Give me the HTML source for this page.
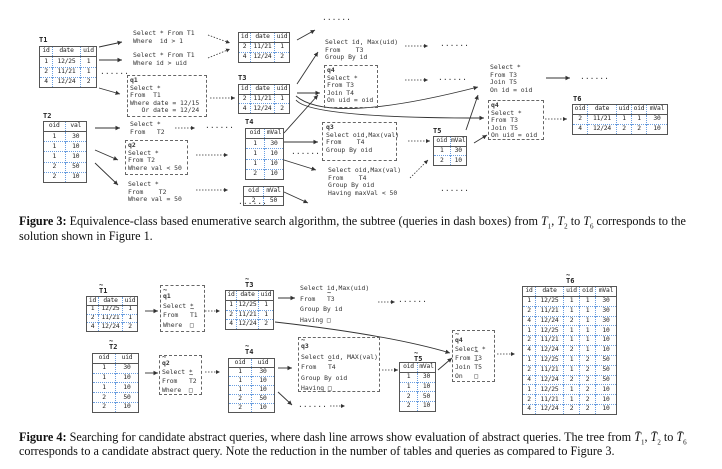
<!DOCTYPE html>
<html><head><meta charset="utf-8"><style>
body{margin:0;width:722px;height:469px;background:#fff;position:relative;overflow:hidden;font-family:"DejaVu Sans Mono","Liberation Mono",monospace;color:#222}
table.t{position:absolute;border-collapse:collapse;border:1px solid #555;font-size:6.3px;letter-spacing:-0.2px;table-layout:fixed}
table.t td{border-left:1px dotted #6a9ee0;border-top:1px dotted #6a9ee0;text-align:center;padding:0;line-height:1;white-space:nowrap;overflow:hidden}
table.t td:first-child{border-left:none}
table.t tr:first-child td{border-top:none;border-bottom:1px solid #555}
.q{position:absolute;font-size:6.4px;line-height:7.6px;white-space:pre;color:#333}
.box{position:absolute;border:1px dashed #666}
.lb{position:absolute;font:bold 7px "DejaVu Sans Mono",monospace}
.d{position:absolute;font-size:8px;color:#333}
.cap{position:absolute;left:19px;font:12.2px "Liberation Serif",serif;color:#111;white-space:nowrap;line-height:14px}
svg{position:absolute;left:0;top:0}
.tl{display:inline-block;position:relative}
.tl:before{content:"~";position:absolute;top:-6px;left:0;font-size:7px}
</style></head><body>
<svg width="722" height="469">
<defs>
<marker id="m" markerWidth="6" markerHeight="6" refX="5" refY="3" orient="auto"><path d="M0,0.5 L5,3 L0,5.5z" fill="#333"/></marker>
</defs>
<g stroke="#333" stroke-width="0.9" fill="none" marker-end="url(#m)">
<line x1="99" y1="47" x2="122" y2="42"/>
<line x1="99" y1="60" x2="122" y2="60"/>
<line x1="99" y1="88" x2="120" y2="94"/>
<line x1="95" y1="128" x2="120" y2="128"/>
<line x1="95" y1="150" x2="118" y2="160"/>
<line x1="95" y1="163" x2="118" y2="185"/>
<line x1="297" y1="40" x2="315" y2="30"/>
<line x1="297" y1="84" x2="318" y2="52"/>
<line x1="297" y1="93" x2="320" y2="93"/>
<line x1="284" y1="133" x2="318" y2="95"/>
<line x1="284" y1="142" x2="318" y2="142"/>
<line x1="284" y1="160" x2="316" y2="170"/>
<line x1="284" y1="192" x2="308" y2="203"/>
<line x1="466" y1="130" x2="478" y2="95"/>
<line x1="474" y1="143" x2="487" y2="135"/>
<line x1="546" y1="78" x2="570" y2="78"/>
<path d="M296,96 Q330,125 478,87"/>
<path d="M296,100 Q310,118 484,118"/>
<line x1="145" y1="311" x2="158" y2="311"/>
<line x1="145" y1="373" x2="158" y2="373"/>
<line x1="278" y1="298" x2="295" y2="298"/>
<line x1="278" y1="368" x2="292" y2="368"/>
<line x1="278" y1="392" x2="292" y2="405"/>
<path d="M275,322 Q390,335 450,353"/>
<line x1="438" y1="370" x2="452" y2="358"/>
</g>
<g stroke="#333" stroke-width="0.8" fill="none" stroke-dasharray="1.5,1.5" marker-end="url(#m)">
<line x1="208" y1="35" x2="230" y2="43"/>
<line x1="208" y1="58" x2="230" y2="49"/>
<line x1="210" y1="98" x2="235" y2="98"/>
<line x1="175" y1="128" x2="195" y2="128"/>
<line x1="196" y1="155" x2="228" y2="155"/>
<line x1="196" y1="190" x2="228" y2="190"/>
<line x1="405" y1="46" x2="428" y2="46"/>
<line x1="405" y1="80" x2="428" y2="80"/>
<line x1="408" y1="141" x2="430" y2="141"/>
<line x1="410" y1="178" x2="428" y2="160"/>
<line x1="545" y1="119" x2="567" y2="119"/>
<line x1="205" y1="311" x2="220" y2="311"/>
<line x1="205" y1="372" x2="220" y2="372"/>
<line x1="378" y1="302" x2="395" y2="302"/>
<line x1="382" y1="370" x2="398" y2="370"/>
<line x1="497" y1="354" x2="515" y2="354"/>
<line x1="330" y1="406" x2="345" y2="406"/>
</g>
</svg>

<!-- Figure 3 -->
<div class="lb" style="left:39px;top:36px">T1</div>
<table class="t" style="left:39px;top:46px;width:58px;height:42px"><tr><td style="width:12px">id</td><td>date</td><td style="width:15px">uid</td></tr><tr><td>1</td><td>12/25</td><td>1</td></tr><tr><td>2</td><td>11/21</td><td>1</td></tr><tr><td>4</td><td>12/24</td><td>2</td></tr></table>
<div class="q" style="left:133px;top:30px">Select * From T1
Where  id &gt; 1</div>
<div class="q" style="left:133px;top:52px">Select * From T1
Where id &gt; uid</div>
<div class="d" style="left:100px;top:67px">......</div>
<div class="box" style="left:127px;top:75px;width:78px;height:40px"></div>
<div class="q" style="left:130px;top:77px"><b>q1</b>
Select *
From  T1
Where date = 12/15
   Or date = 12/24</div>
<table class="t" style="left:238px;top:32px;width:52px;height:31px"><tr><td style="width:11px">id</td><td>date</td><td style="width:14px">uid</td></tr><tr><td>2</td><td>11/21</td><td>1</td></tr><tr><td>4</td><td>12/24</td><td>2</td></tr></table>
<div class="lb" style="left:238px;top:74px">T3</div>
<table class="t" style="left:238px;top:84px;width:52px;height:30px"><tr><td style="width:11px">id</td><td>date</td><td style="width:14px">uid</td></tr><tr><td>2</td><td>11/21</td><td>1</td></tr><tr><td>4</td><td>12/24</td><td>2</td></tr></table>
<div class="lb" style="left:43px;top:112px">T2</div>
<table class="t" style="left:43px;top:121px;width:44px;height:62px"><tr><td>oid</td><td>val</td></tr><tr><td>1</td><td>30</td></tr><tr><td>1</td><td>10</td></tr><tr><td>1</td><td>10</td></tr><tr><td>2</td><td>50</td></tr><tr><td>2</td><td>10</td></tr></table>
<div class="q" style="left:130px;top:121px">Select *
From   T2</div>
<div class="d" style="left:205px;top:121px">......</div>
<div class="box" style="left:125px;top:140px;width:61px;height:33px"></div>
<div class="q" style="left:128px;top:142px"><b>q2</b>
Select *
From T2
Where val &lt; 50</div>
<div class="q" style="left:128px;top:181px">Select *
From    T2
Where val = 50</div>
<div class="lb" style="left:245px;top:118px">T4</div>
<table class="t" style="left:245px;top:128px;width:39px;height:52px"><tr><td>oid</td><td>mVal</td></tr><tr><td>1</td><td>30</td></tr><tr><td>1</td><td>10</td></tr><tr><td>1</td><td>10</td></tr><tr><td>2</td><td>10</td></tr></table>
<table class="t" style="left:243px;top:186px;width:41px;height:20px"><tr><td>oid</td><td>mVal</td></tr><tr><td>2</td><td>50</td></tr></table>
<div class="d" style="left:322px;top:13px">......</div>
<div class="q" style="left:325px;top:39px">Select id, Max(uid)
From    T3
Group By id</div>
<div class="d" style="left:440px;top:39px">......</div>
<div class="box" style="left:324px;top:65px;width:52px;height:41px"></div>
<div class="q" style="left:327px;top:67px"><b>q4</b>
Select *
From T3
Join T4
On uid = oid</div>
<div class="d" style="left:438px;top:73px">......</div>
<div class="d" style="left:291px;top:147px">......</div>
<div class="box" style="left:322px;top:122px;width:73px;height:37px"></div>
<div class="q" style="left:326px;top:124px"><b>q3</b>
Select oid,Max(val)
From    T4
Group By oid</div>
<div class="lb" style="left:433px;top:127px">T5</div>
<table class="t" style="left:433px;top:136px;width:34px;height:30px"><tr><td>oid</td><td>mVal</td></tr><tr><td>1</td><td>30</td></tr><tr><td>2</td><td>10</td></tr></table>
<div class="q" style="left:328px;top:167px">Select oid,Max(val)
From    T4
Group By oid
Having maxVal &lt; 50</div>
<div class="d" style="left:440px;top:184px">......</div>
<div class="d" style="left:238px;top:197px">......</div>
<div class="q" style="left:490px;top:64px">Select *
From T3
Join T5
On id = oid</div>
<div class="d" style="left:580px;top:72px">......</div>
<div class="box" style="left:488px;top:100px;width:54px;height:38px"></div>
<div class="q" style="left:491px;top:102px"><b>q4</b>
Select *
From T3
Join T5
On uid = oid</div>
<div class="lb" style="left:573px;top:95px">T6</div>
<table class="t" style="left:572px;top:104px;width:96px;height:31px"><tr><td style="width:14px">oid</td><td>date</td><td style="width:14px">uid</td><td style="width:14px">oid</td><td style="width:20px">mVal</td></tr><tr><td>2</td><td>11/21</td><td>1</td><td>1</td><td>30</td></tr><tr><td>4</td><td>12/24</td><td>2</td><td>2</td><td>10</td></tr></table>
<div class="cap" style="top:214px"><b>Figure 3:</b> Equivalence-class based enumerative search algorithm, the subtree (queries in dash boxes) from <i>T</i><sub style="font-size:7px">1</sub>, <i>T</i><sub style="font-size:7px">2</sub> to <i>T</i><sub style="font-size:7px">6</sub> corresponds to the</div>
<div class="cap" style="top:229px">solution shown in Figure 1.</div>

<!-- Figure 4 -->
<div class="lb" style="left:99px;top:287px"><span class="tl">T</span>1</div>
<table class="t" style="left:86px;top:296px;width:52px;height:36px"><tr><td style="width:11px">id</td><td>date</td><td style="width:14px">uid</td></tr><tr><td>1</td><td>12/25</td><td>1</td></tr><tr><td>2</td><td>11/21</td><td>1</td></tr><tr><td>4</td><td>12/24</td><td>2</td></tr></table>
<div class="box" style="left:160px;top:285px;width:43px;height:45px"></div>
<div class="q" style="left:163px;top:292px;line-height:9.5px"><b><span class="tl">q</span>1</b>
Select *
From   <span class="tl">T</span>1
Where  □</div>
<div class="lb" style="left:245px;top:281px"><span class="tl">T</span>3</div>
<table class="t" style="left:225px;top:290px;width:49px;height:40px"><tr><td style="width:10px">id</td><td>date</td><td style="width:14px">uid</td></tr><tr><td>1</td><td>12/25</td><td>1</td></tr><tr><td>2</td><td>11/21</td><td>1</td></tr><tr><td>4</td><td>12/24</td><td>2</td></tr></table>
<div class="q" style="left:300px;top:283px;line-height:10.5px">Select id,Max(uid)
From   <span class="tl">T</span>3
Group By id
Having □</div>
<div class="d" style="left:398px;top:295px">......</div>
<div class="lb" style="left:109px;top:343px"><span class="tl">T</span>2</div>
<table class="t" style="left:92px;top:353px;width:47px;height:60px"><tr><td>oid</td><td>uid</td></tr><tr><td>1</td><td>30</td></tr><tr><td>1</td><td>10</td></tr><tr><td>1</td><td>10</td></tr><tr><td>2</td><td>50</td></tr><tr><td>2</td><td>10</td></tr></table>
<div class="box" style="left:159px;top:355px;width:41px;height:38px"></div>
<div class="q" style="left:162px;top:359px;line-height:9px"><b><span class="tl">q</span>2</b>
Select *
From   <span class="tl">T</span>2
Where  □</div>
<div class="lb" style="left:245px;top:348px"><span class="tl">T</span>4</div>
<table class="t" style="left:228px;top:358px;width:47px;height:55px"><tr><td>oid</td><td>uid</td></tr><tr><td>1</td><td>30</td></tr><tr><td>1</td><td>10</td></tr><tr><td>1</td><td>10</td></tr><tr><td>2</td><td>50</td></tr><tr><td>2</td><td>10</td></tr></table>
<div class="box" style="left:298px;top:337px;width:80px;height:53px"></div>
<div class="q" style="left:301px;top:341px;line-height:10.5px"><b><span class="tl">q</span>3</b>
Select oid, MAX(val)
From   <span class="tl">T</span>4
Group By oid
Having □</div>
<div class="d" style="left:298px;top:400px">...... </div>
<div class="lb" style="left:414px;top:355px"><span class="tl">T</span>5</div>
<table class="t" style="left:399px;top:362px;width:37px;height:50px"><tr><td>oid</td><td>mVal</td></tr><tr><td>1</td><td>30</td></tr><tr><td>1</td><td>10</td></tr><tr><td>2</td><td>50</td></tr><tr><td>2</td><td>10</td></tr></table>
<div class="box" style="left:452px;top:330px;width:41px;height:50px"></div>
<div class="q" style="left:455px;top:336px;line-height:9px"><b><span class="tl">q</span>4</b>
Select *
From <span class="tl">T</span>3
Join <span class="tl">T</span>5
On   □</div>
<div class="lb" style="left:566px;top:277px"><span class="tl">T</span>6</div>
<table class="t" style="left:522px;top:286px;width:95px;height:129px"><tr><td style="width:12px">id</td><td>date</td><td style="width:15px">uid</td><td style="width:15px">oid</td><td style="width:20px">mVal</td></tr>
<tr><td>1</td><td>12/25</td><td>1</td><td>1</td><td>30</td></tr><tr><td>2</td><td>11/21</td><td>1</td><td>1</td><td>30</td></tr><tr><td>4</td><td>12/24</td><td>2</td><td>1</td><td>30</td></tr>
<tr><td>1</td><td>12/25</td><td>1</td><td>1</td><td>10</td></tr><tr><td>2</td><td>11/21</td><td>1</td><td>1</td><td>10</td></tr><tr><td>4</td><td>12/24</td><td>2</td><td>1</td><td>10</td></tr>
<tr><td>1</td><td>12/25</td><td>1</td><td>2</td><td>50</td></tr><tr><td>2</td><td>11/21</td><td>1</td><td>2</td><td>50</td></tr><tr><td>4</td><td>12/24</td><td>2</td><td>2</td><td>50</td></tr>
<tr><td>1</td><td>12/25</td><td>1</td><td>2</td><td>10</td></tr><tr><td>2</td><td>11/21</td><td>1</td><td>2</td><td>10</td></tr><tr><td>4</td><td>12/24</td><td>2</td><td>2</td><td>10</td></tr></table>
<div class="cap" style="top:430px"><b>Figure 4:</b> Searching for candidate abstract queries, where dash line arrows show evaluation of abstract queries. The tree from <i>T̄</i><sub style="font-size:7px">1</sub>, <i>T̄</i><sub style="font-size:7px">2</sub> to <i>T̄</i><sub style="font-size:7px">6</sub></div>
<div class="cap" style="top:444px">corresponds to a candidate abstract query. Note the reduction in the number of tables and queries as compared to Figure 3.</div>
</body></html>
